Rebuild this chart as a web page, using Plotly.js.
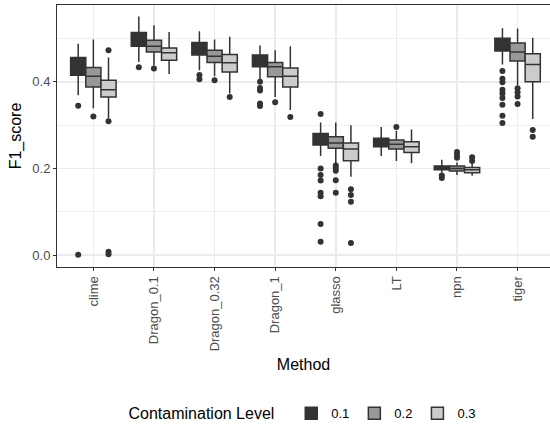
<!DOCTYPE html>
<html>
<head>
<meta charset="utf-8">
<script src="https://cdn.plot.ly/plotly-3.0.1.min.js"></script>
<style>
  html, body { margin: 0; padding: 0; overflow: hidden; background: #ffffff; }
  #chart { width: 550px; height: 431px; }
</style>
</head>
<body>
<div id="chart"></div>
<script>
// Methods on the x axis
const methods = ["clime", "Dragon_0.1", "Dragon_0.32", "Dragon_1", "glasso", "LT", "npn", "tiger"];
// Contamination levels (one box per method for each level)
const levels = ["0.1", "0.2", "0.3"];

// Box statistics of F1_score, one entry per method
const q1_01     = [0.415, 0.482, 0.462, 0.435, 0.254, 0.250, 0.197, 0.471];
const median_01 = [0.438, 0.500, 0.478, 0.450, 0.266, 0.260, 0.201, 0.487];
const q3_01     = [0.456, 0.514, 0.491, 0.462, 0.281, 0.270, 0.206, 0.501];
const lo_01     = [0.369, 0.446, 0.427, 0.404, 0.229, 0.229, 0.190, 0.440];
const hi_01     = [0.488, 0.551, 0.517, 0.484, 0.306, 0.296, 0.220, 0.524];
const out_01 = [
  [0.345, 0.001],
  [0.434],
  [0.416, 0.406],
  [0.400, 0.386, 0.380, 0.350, 0.344],
  [0.326, 0.200, 0.185, 0.172, 0.144, 0.136, 0.072, 0.031],
  [],
  [0.184, 0.178],
  [0.425, 0.407, 0.399, 0.382, 0.373, 0.363, 0.347, 0.322, 0.305]
];

const q1_02     = [0.388, 0.469, 0.445, 0.412, 0.247, 0.245, 0.194, 0.448];
const median_02 = [0.413, 0.482, 0.459, 0.435, 0.259, 0.256, 0.200, 0.469];
const q3_02     = [0.433, 0.496, 0.473, 0.445, 0.273, 0.266, 0.206, 0.490];
const lo_02     = [0.339, 0.438, 0.413, 0.365, 0.212, 0.217, 0.185, 0.392];
const hi_02     = [0.498, 0.531, 0.498, 0.473, 0.306, 0.287, 0.214, 0.523];
const out_02 = [
  [0.320],
  [0.431],
  [0.404],
  [0.353],
  [0.207, 0.201, 0.195, 0.173, 0.144],
  [0.296],
  [0.238, 0.231, 0.225],
  [0.385, 0.376, 0.366, 0.349]
];

const q1_03     = [0.365, 0.450, 0.423, 0.388, 0.218, 0.237, 0.190, 0.400];
const median_03 = [0.382, 0.467, 0.444, 0.413, 0.245, 0.250, 0.197, 0.440];
const q3_03     = [0.404, 0.478, 0.463, 0.432, 0.259, 0.262, 0.202, 0.465];
const lo_03     = [0.316, 0.418, 0.373, 0.335, 0.181, 0.212, 0.183, 0.314];
const hi_03     = [0.456, 0.515, 0.504, 0.482, 0.300, 0.290, 0.212, 0.502];
const out_03 = [
  [0.473, 0.309, 0.008, 0.002],
  [],
  [0.365],
  [0.319],
  [0.152, 0.139, 0.123, 0.028],
  [],
  [0.226, 0.217],
  [0.289, 0.273]
];

// Fill greys per contamination level
const fills = ["#333333", "#989898", "#cccccc"];
const lineColor = "#333333";
const dodge = [-0.25, 0, 0.25];
const boxWidth = 0.25;

const stats = [
  {q1: q1_01, med: median_01, q3: q3_01, lo: lo_01, hi: hi_01, out: out_01},
  {q1: q1_02, med: median_02, q3: q3_02, lo: lo_02, hi: hi_02, out: out_02},
  {q1: q1_03, med: median_03, q3: q3_03, lo: lo_03, hi: hi_03, out: out_03}
];

const traces = [];
stats.forEach((s, k) => {
  traces.push({
    type: "box",
    name: levels[k],
    x: methods.map((m, i) => i + dodge[k]),
    q1: s.q1,
    median: s.med,
    q3: s.q3,
    lowerfence: s.lo,
    upperfence: s.hi,
    width: boxWidth,
    whiskerwidth: 0,
    boxpoints: false,
    fillcolor: fills[k],
    line: {color: lineColor, width: 1.5},
    hoverinfo: "skip"
  });
});
// Outlying points, drawn at the same dodged positions
stats.forEach((s, k) => {
  const xs = [], ys = [];
  s.out.forEach((vals, i) => vals.forEach(v => { xs.push(i + dodge[k]); ys.push(v); }));
  traces.push({
    type: "scatter",
    mode: "markers",
    x: xs,
    y: ys,
    showlegend: false,
    hoverinfo: "skip",
    marker: {color: lineColor, size: 6}
  });
});

const layout = {
  width: 550,
  height: 431,
  margin: {l: 57, r: 0, t: 5, b: 164},
  paper_bgcolor: "#ffffff",
  plot_bgcolor: "#ffffff",
  font: {family: "Liberation Sans, Arial, sans-serif", color: "#000000"},
  boxmode: "overlay",
  showlegend: true,
  xaxis: {
    // the panel runs on past the right edge of the page
    range: [-0.6, 7.535],
    tickmode: "array",
    tickvals: methods.map((m, i) => i),
    ticktext: methods,
    tickangle: -90,
    ticks: "outside",
    ticklen: 3,
    tickcolor: "#333333",
    tickfont: {size: 13, color: "#4d4d4d"},
    showgrid: true,
    gridcolor: "#ebebeb",
    gridwidth: 1.5,
    zeroline: false,
    showline: true,
    mirror: true,
    linecolor: "#333333",
    linewidth: 1,
    title: {text: "Method", font: {size: 16, color: "#000000"}, standoff: 8}
  },
  yaxis: {
    range: [-0.0275, 0.5775],
    tickmode: "array",
    tickvals: [0, 0.2, 0.4],
    ticktext: ["0.0", "0.2", "0.4"],
    ticks: "outside",
    ticklen: 3,
    tickcolor: "#333333",
    tickfont: {size: 13, color: "#4d4d4d"},
    showgrid: true,
    gridcolor: "#ebebeb",
    gridwidth: 1.5,
    minor: {tickvals: [0.1, 0.3, 0.5], showgrid: true, gridcolor: "#ebebeb", gridwidth: 0.8, ticks: ""},
    zeroline: false,
    showline: true,
    mirror: false,
    linecolor: "#333333",
    linewidth: 1,
    title: {text: "F1_score", font: {size: 16, color: "#000000"}, standoff: 6}
  },
  legend: {
    orientation: "h",
    x: 0.5,
    xanchor: "center",
    y: -0.56,
    yanchor: "middle",
    title: {text: "Contamination Level  ", side: "left", font: {size: 16, color: "#000000"}},
    font: {size: 13, color: "#000000"},
    itemwidth: 30
  }
};

Plotly.newPlot("chart", traces, layout, {displayModeBar: false, staticPlot: true});
</script>
</body>
</html>
